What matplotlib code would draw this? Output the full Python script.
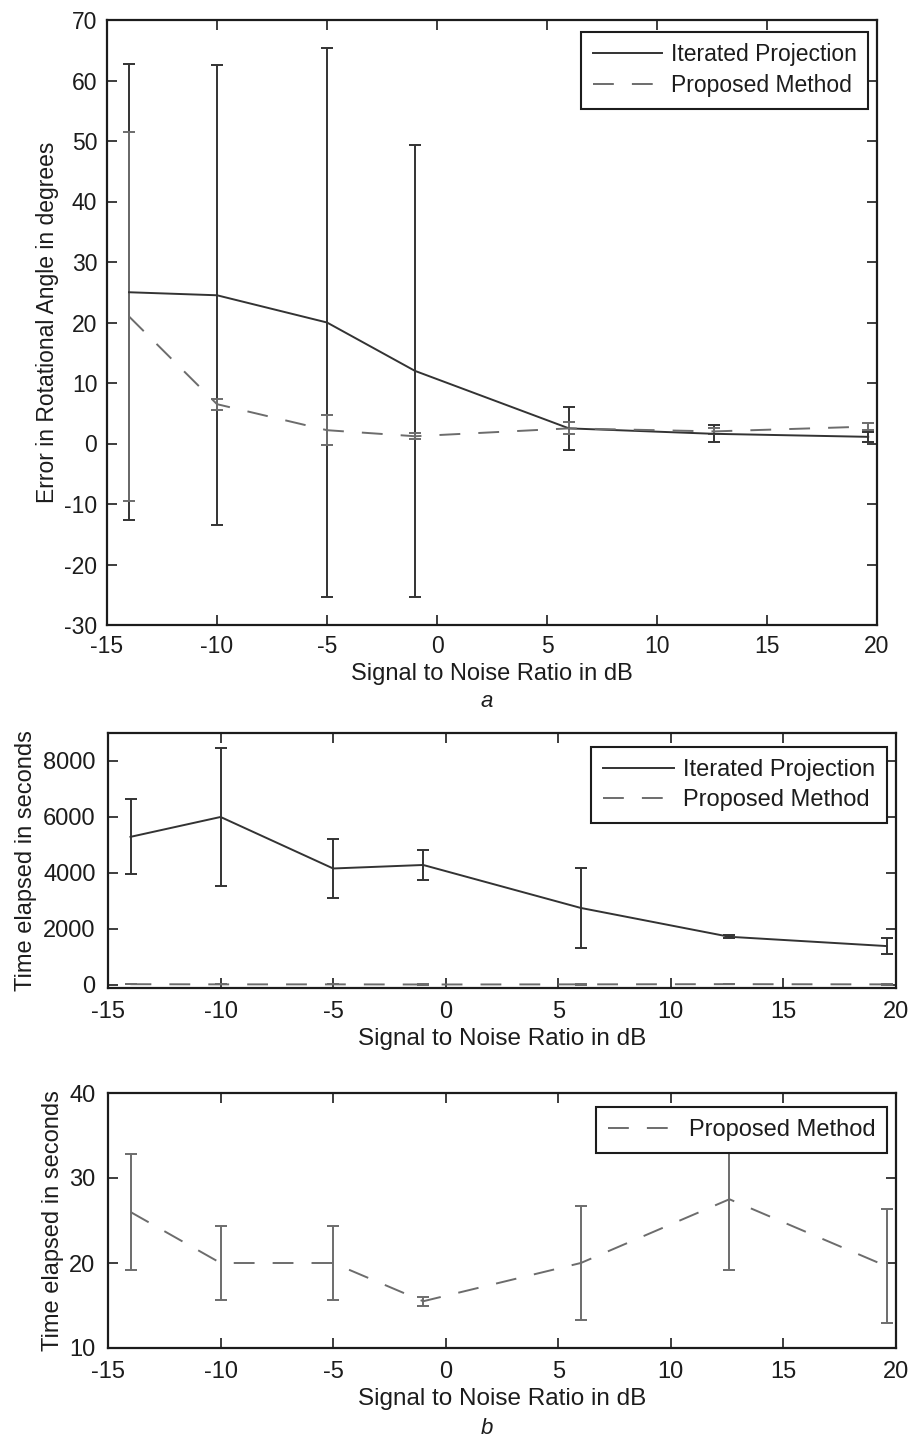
import matplotlib
matplotlib.use('Agg')
import matplotlib.pyplot as plt

plt.rcParams['font.family'] = ['Liberation Sans', 'DejaVu Sans']
plt.rcParams['lines.scale_dashes'] = False
plt.rcParams['axes.unicode_minus'] = False

# SNR levels (dB)
snr = [-14, -10, -5, -1, 6, 12.6, 19.6]

# a: error in rotational angle (degrees), mean and half-length of error bar
angle_ip = [25.0, 24.5, 20.0, 12.0, 2.5, 1.6, 1.1]
angle_ip_err = [37.7, 38.0, 45.4, 37.3, 3.5, 1.4, 0.8]
angle_pm = [21.0, 6.5, 2.2, 1.2, 2.5, 2.0, 2.8]
angle_pm_err = [30.5, 0.9, 2.5, 0.5, 1.0, 0.5, 0.6]

# b: elapsed time (seconds)
time_ip = [5290, 6000, 4160, 4285, 2750, 1720, 1387]
time_ip_err = [1340, 2450, 1060, 545, 1440, 50, 280]
time_pm = [26.0, 20.0, 20.0, 15.5, 20.0, 27.5, 19.6]
time_pm_err = [6.8, 4.35, 4.35, 0.5, 6.7, 8.3, 6.7]

SOLID = '#333333'
DASH = '#6c6c6c'
INK = '#1c1c1c'
DASHES = (15, 13)

W, H = 911, 1436
fig = plt.figure(figsize=(W / 100, H / 100), dpi=100)


def box(l, r, t, b):
    return [l / W, 1 - b / H, (r - l) / W, (b - t) / H]


def style(ax, fs, pad):
    ax.tick_params(direction='in', top=True, right=True, length=7, width=1.2,
                   labelsize=fs, pad=pad, color=INK, labelcolor=INK)
    for s in ax.spines.values():
        s.set_linewidth(1.6)
        s.set_color(INK)
    ax.set_xlim(-15, 20)
    ax.set_xticks(range(-15, 21, 5))
    ax.set_xlabel('Signal to Noise Ratio in dB', fontsize=fs + 0.5, color=INK, labelpad=4)


def draw(ax, y, err, color, dashed, cap):
    c = ax.errorbar(snr, y, yerr=err, color=color, lw=1.4, elinewidth=1.4,
                    capsize=cap, capthick=1.4)
    if dashed:
        c[0].set_dashes(DASHES)
    return c[0]


def legend(ax, handles, labels, right, top, fs):
    leg = ax.legend(handles, labels, loc='upper right',
                    bbox_to_anchor=(right / W, 1 - top / H), bbox_transform=fig.transFigure,
                    borderaxespad=0, fancybox=False, framealpha=1, edgecolor=INK,
                    fontsize=fs, handlelength=3.0, handletextpad=0.4,
                    labelspacing=0.35, borderpad=0.5)
    leg.get_frame().set_linewidth(1.5)
    for t in leg.get_texts():
        t.set_color(INK)


# ---- top: rotational angle error
ax1 = fig.add_axes(box(107, 877, 20, 625))
style(ax1, 16.5, 7)
h1 = draw(ax1, angle_ip, angle_ip_err, SOLID, False, 4)
h2 = draw(ax1, angle_pm, angle_pm_err, DASH, True, 4)
ax1.set_ylim(-30, 70)
ax1.set_yticks(range(-30, 71, 10))
ax1.set_ylabel('Error in Rotational Angle in degrees', fontsize=16.5, color=INK, labelpad=4)
legend(ax1, [h1, h2], ['Iterated Projection', 'Proposed Method'], 868, 32, 16.5)
fig.text(487 / W, 1 - 702 / H, 'a', style='italic', fontsize=16, color=INK, ha='center', va='center')

# ---- middle: elapsed time, both methods
ax2 = fig.add_axes(box(108, 896, 733, 988))
style(ax2, 17, 9)
h1 = draw(ax2, time_ip, time_ip_err, SOLID, False, 4.5)
h2 = draw(ax2, time_pm, time_pm_err, DASH, True, 4.5)
ax2.set_ylim(-110, 9000)
ax2.set_yticks(range(0, 8001, 2000))
ax2.set_ylabel('Time elapsed in seconds', fontsize=17, color=INK, labelpad=4)
legend(ax2, [h1, h2], ['Iterated Projection', 'Proposed Method'], 887, 747, 17)

# ---- bottom: elapsed time, proposed method only
ax3 = fig.add_axes(box(108, 896, 1093, 1348))
style(ax3, 17, 9)
h2 = draw(ax3, time_pm, time_pm_err, DASH, True, 4.5)
ax3.set_ylim(10, 40)
ax3.set_yticks(range(10, 41, 10))
ax3.set_ylabel('Time elapsed in seconds', fontsize=17, color=INK, labelpad=4)
legend(ax3, [h2], ['Proposed Method'], 887, 1107, 17)
fig.text(487 / W, 1 - 1428 / H, 'b', style='italic', fontsize=16, color=INK, ha='center', va='center')

fig.savefig('out.png', dpi=100)
